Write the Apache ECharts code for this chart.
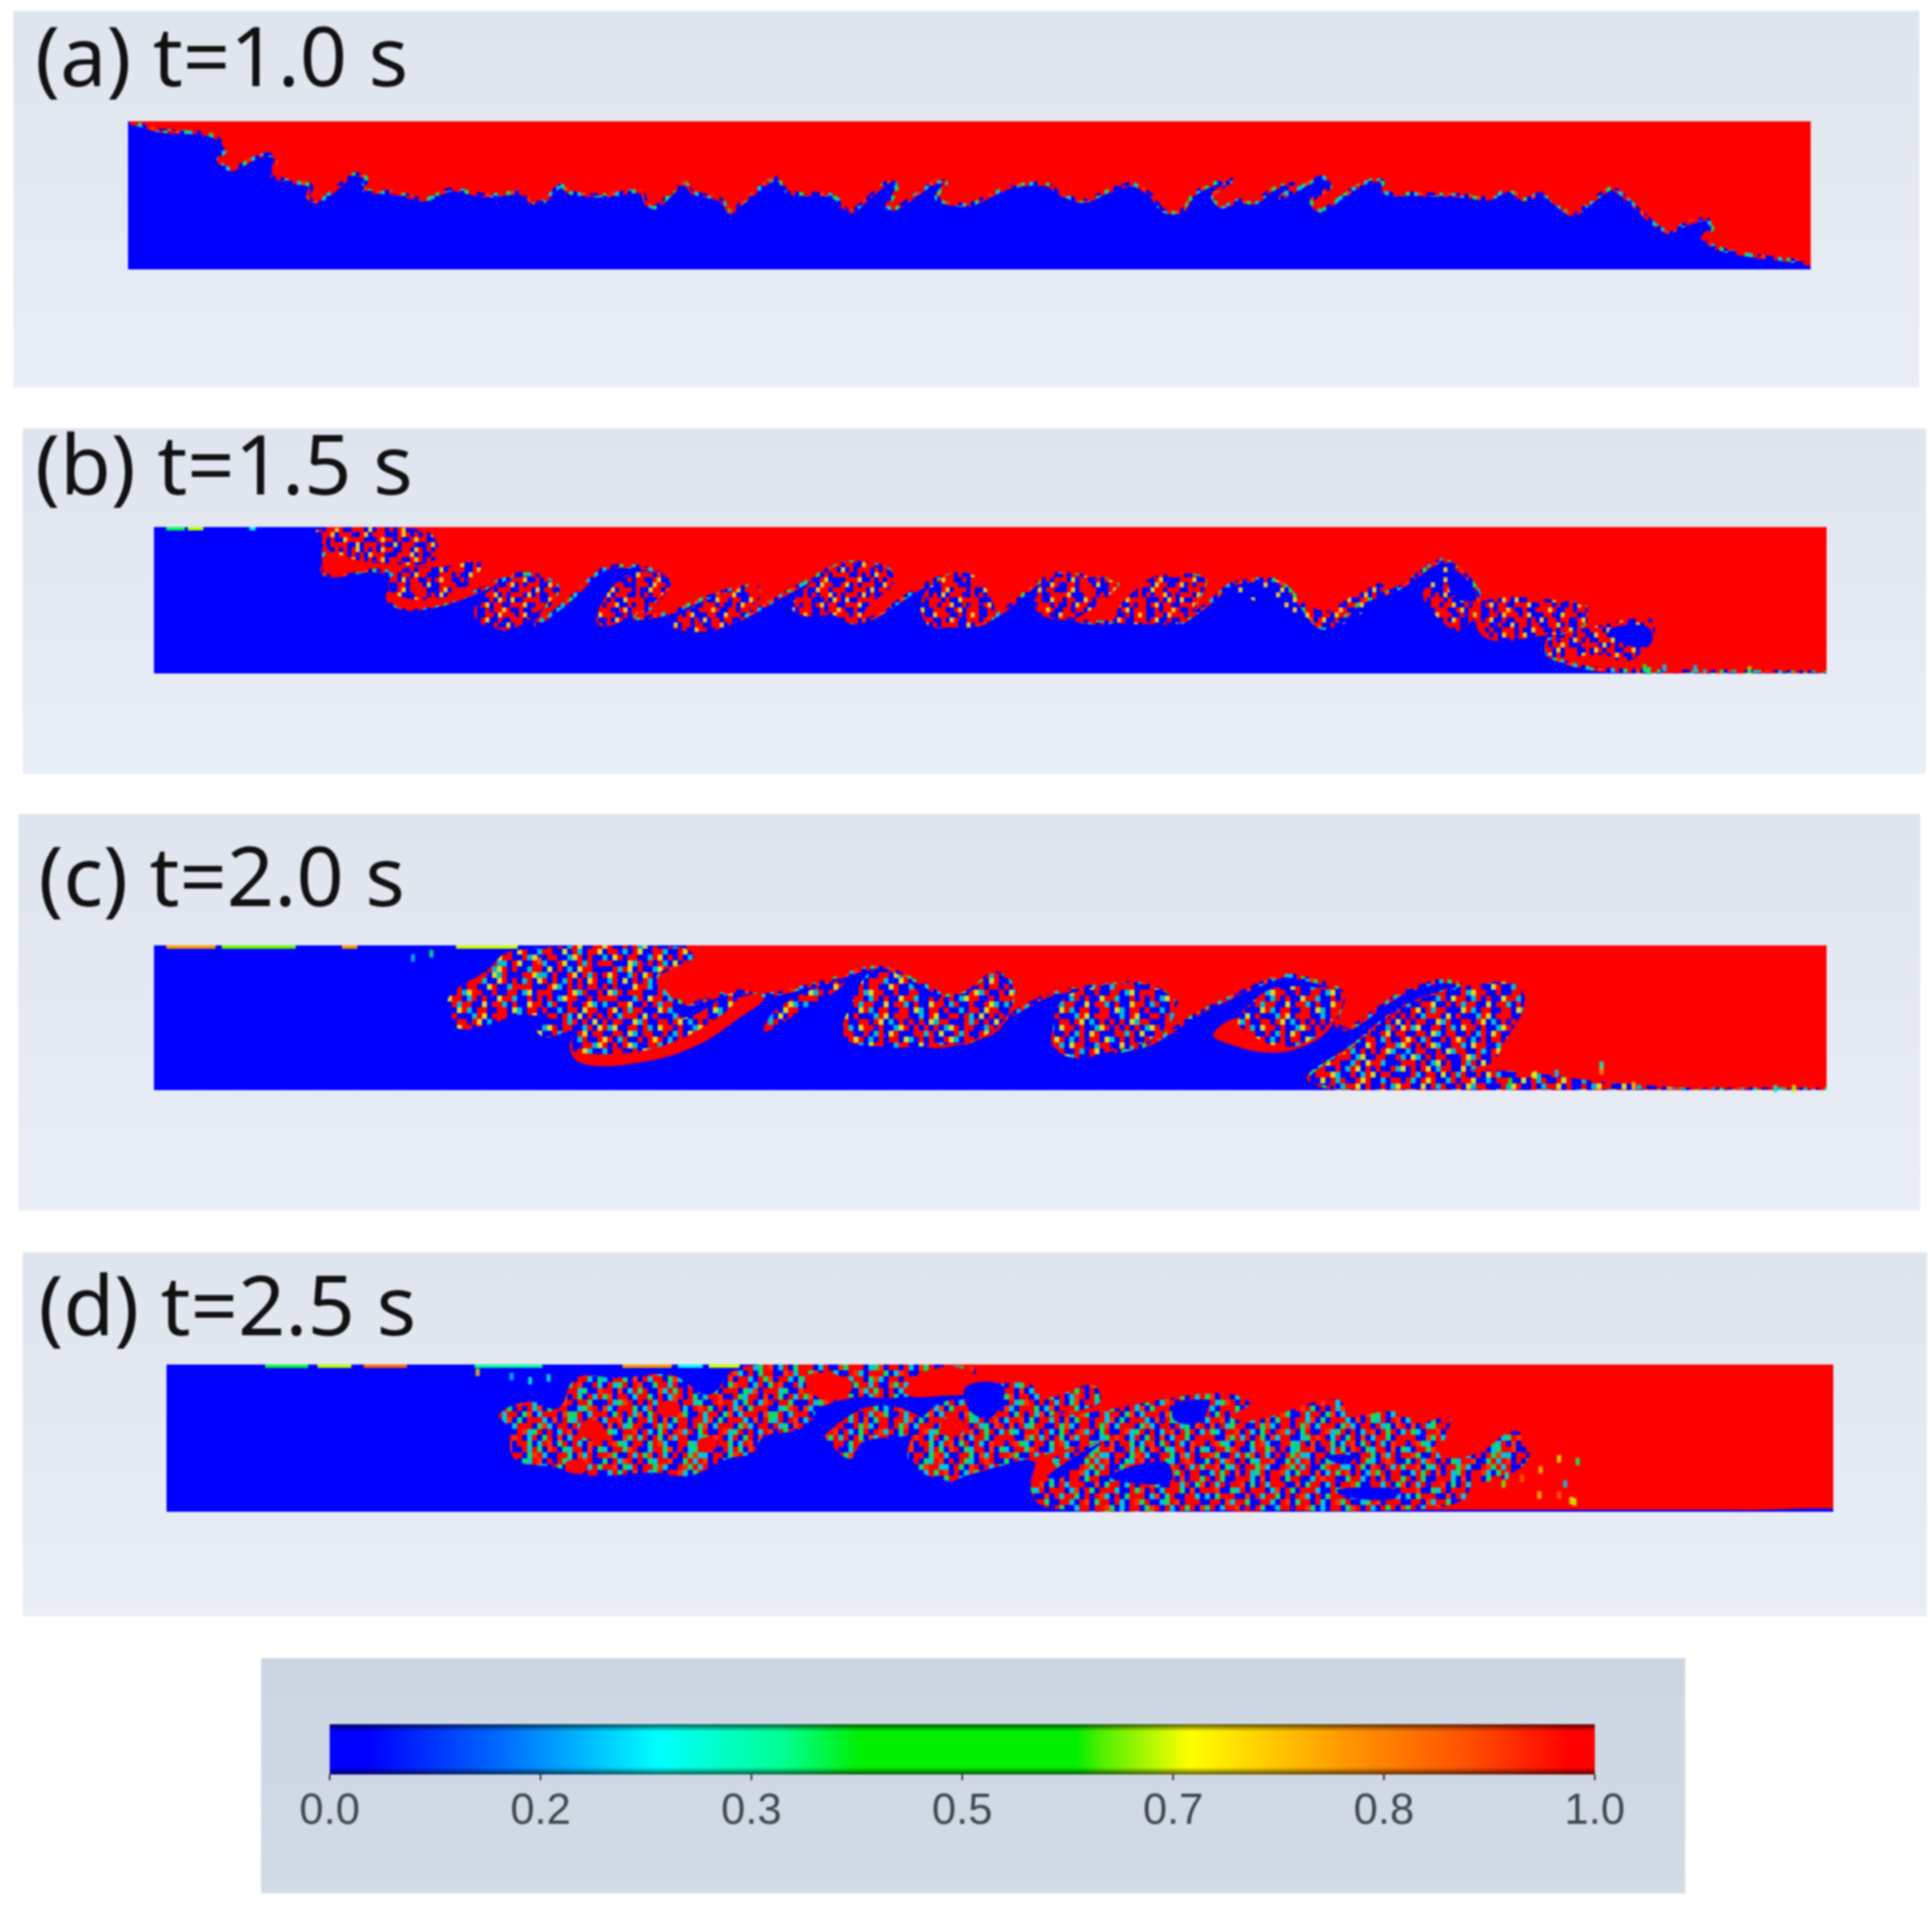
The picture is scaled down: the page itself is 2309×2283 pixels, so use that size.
<!DOCTYPE html>
<html>
<head>
<meta charset="utf-8">
<title>VOF snapshots</title>
<style>
  html, body { margin: 0; background: #fff; }
  #chart { width: 2309px; height: 2283px; filter: blur(0.9px); }
</style>
<script src="https://cdn.jsdelivr.net/npm/echarts@6/dist/echarts.min.js"></script>
</head>
<body>
<div id="chart"></div>
<script>
const panelLabels = ['(a) t=1.0 s', '(b) t=1.5 s', '(c) t=2.0 s', '(d) t=2.5 s'];
const barTicks = [0, 0.1667, 0.3333, 0.5, 0.6667, 0.8333, 1];
const barValue = [1];

// tank extents [xMin, xMax, yTop, yBottom]
const extentA = [208, 2938, 435, 965];
const extentB = [250, 2963, 420, 945];
const extentC = [250, 2963, 510, 1030];
const extentD = [270, 2975, 452, 980];

// lower fluid (VOF = 0), closing points sit outside the tank so only the interface shows
const blueA = [[
  [150,438],[208,438],[260,468],[340,482],[368,530],[355,570],[365,600],[380,605],[410,570],[435,553],[450,570],[440,625],
  [470,650],[505,665],[500,705],[515,722],[535,695],[575,625],[595,640],[590,680],[640,690],[690,715],[730,680],
  [790,700],[845,690],[860,720],[880,725],[910,665],[925,690],[985,700],[1040,685],[1050,730],[1065,742],[1110,655],
  [1125,690],[1170,715],[1185,760],[1205,725],[1260,638],[1280,690],[1350,700],[1375,755],[1385,755],[1445,645],
  [1455,680],[1440,740],[1455,745],[1515,655],[1535,655],[1520,710],[1568,735],[1598,710],[1638,670],[1698,660],
  [1718,690],[1758,720],[1798,685],[1838,660],[1868,700],[1888,755],[1918,755],[1938,695],[1978,650],[1998,645],
  [1968,700],[1983,740],[2008,720],[2038,725],[2063,680],[2098,660],[2078,710],[2128,650],[2148,635],[2158,670],
  [2128,720],[2143,755],[2178,705],[2218,650],[2243,650],[2248,690],[2288,695],[2368,700],[2418,710],[2448,680],
  [2473,715],[2503,695],[2533,745],[2553,770],[2578,730],[2613,675],[2628,690],[2658,750],[2688,810],[2708,830],
  [2738,800],[2768,785],[2778,820],[2763,850],[2783,885],[2828,910],[2898,930],[2938,945],[3000,965],[3000,1040],[150,1040]
]];
const blueB = [[
  [150,395],[525,395],[525,585],[600,575],[635,590],[630,680],[660,712],[720,695],[775,650],[840,590],[880,600],
  [905,640],[880,730],[870,770],[930,670],[980,570],[1050,568],[1085,620],[1060,700],[1030,745],[1080,730],[1150,670],
  [1225,630],[1230,670],[1190,760],[1290,640],[1370,550],[1440,570],[1445,620],[1400,690],[1380,760],[1420,740],
  [1490,640],[1530,600],[1568,590],[1588,640],[1610,710],[1588,770],[1628,720],[1703,595],[1768,600],[1813,625],
  [1778,690],[1738,745],[1808,755],[1868,610],[1953,605],[1938,700],[1918,760],[1968,680],[1998,625],[2068,610],
  [2098,660],[2138,775],[2168,770],[2208,690],[2268,640],[2338,540],[2368,575],[2398,650],[2398,690],[2568,700],
  [2568,770],[2513,820],[2513,880],[2593,930],[2838,940],[2963,943],[3020,945],[3020,1020],[150,1020]
]];
const blueC = [[
  [150,485],[1100,485],[1110,560],[1065,620],[1085,690],[1120,720],[1190,675],[1240,690],[1340,640],[1420,590],
  [1490,640],[1530,690],[1568,680],[1613,610],[1643,660],[1628,780],[1568,860],[1688,700],[1738,670],[1850,650],
  [1908,720],[1868,840],[1810,890],[1868,860],[1948,750],[2078,620],[2108,625],[2178,680],[2168,790],[2188,810],
  [2268,690],[2333,640],[2368,650],[2270,740],[2190,880],[2123,985],[2168,1022],[2963,1028],[3020,1030],[3020,1100],[150,1100]
]];
const blueD = [[
  [150,425],[1330,425],[1320,590],[1390,570],[1568,560],[1630,530],[1640,640],[1608,780],[1678,800],[1673,880],
  [1698,965],[1940,972],[2838,974],[3020,978],[3020,1050],[150,1050]
]];

// solid upper fluid pockets (VOF = 1) laid over the lower fluid
const redB = [
  [[530,520],[600,530],[640,545],[600,570],[545,590],[525,575]],
  [[515,430],[685,430],[712,490],[700,545],[620,550],[545,515],[520,470]],
  [[640,590],[665,565],[720,560],[780,545],[775,590],[745,650],[775,655],[720,695],[660,712],[632,680]],
  [[775,690],[800,640],[840,600],[880,605],[905,640],[880,710],[830,785],[790,775],[770,740]],
  [[970,720],[1000,620],[1040,580],[1085,620],[1060,690],[1020,745],[980,778],[968,760]],
  [[1085,765],[1150,680],[1230,630],[1225,690],[1185,770],[1140,795],[1095,785]],
  [[1285,710],[1310,630],[1370,550],[1440,570],[1450,620],[1410,700],[1385,765],[1350,735],[1310,740]],
  [[1495,680],[1530,600],[1568,585],[1588,610],[1612,700],[1590,770],[1540,780],[1505,770]],
  [[1678,700],[1700,600],[1760,595],[1813,625],[1790,680],[1745,745],[1700,745]],
  [[1808,750],[1868,610],[1953,605],[1938,700],[1918,760],[1868,768]],
  [[2308,660],[2338,620],[2398,690],[2370,790],[2340,760]],
  [[2398,690],[2568,700],[2568,770],[2500,810],[2408,815]],
  [[2510,830],[2590,790],[2640,860],[2640,900],[2600,880],[2513,880]]
];
const redC = [
  [[1040,930],[1130,870],[1200,770],[1240,700],[1195,700],[1150,790],[1100,830],[1060,800],[960,800],[925,870],[945,935]],
  [[1500,870],[1578,855],[1628,790],[1600,700],[1520,770]],
  [[1968,830],[2008,770],[2140,770],[2178,700],[2160,800],[2118,870],[2058,895],[1988,860]],
  [[2270,750],[2333,700],[2473,720],[2440,860],[2420,960],[2300,1000],[2200,960]]
];
const redD = [
  [[2068,800],[2128,760],[2120,860],[2070,890]],
  [[1970,910],[2060,900],[2080,960],[1980,970]]
];

// mixed (speckled) zones
const mixB = [
  [[515,430],[685,430],[712,490],[700,545],[620,550],[545,515],[520,470]],
  [[640,590],[665,565],[720,560],[780,545],[775,590],[745,650],[700,680],[650,670],[630,640]],
  [[775,690],[800,640],[840,600],[880,605],[905,640],[880,710],[830,785],[790,775],[770,740]],
  [[970,720],[1000,620],[1040,580],[1085,620],[1060,690],[1020,745],[980,778],[968,760]],
  [[1085,765],[1150,680],[1230,630],[1225,690],[1185,770],[1140,795],[1095,785]],
  [[1285,710],[1310,630],[1370,550],[1440,570],[1450,620],[1410,700],[1385,765],[1350,735],[1310,740]],
  [[1495,680],[1530,600],[1568,585],[1588,610],[1612,700],[1590,770],[1540,780],[1505,770]],
  [[1678,700],[1700,600],[1760,595],[1813,625],[1790,680],[1745,745],[1700,745]],
  [[1808,750],[1868,610],[1953,605],[1938,700],[1918,760],[1868,768]],
  [[1998,630],[2070,610],[2100,660],[2145,720],[2170,700],[2230,620],[2250,650],[2170,778],[2135,775],[2060,700],[2030,680]],
  [[2308,660],[2338,540],[2368,575],[2398,650],[2398,690],[2370,790],[2340,760]],
  [[2398,690],[2568,700],[2568,770],[2500,810],[2408,815]],
  [[2510,830],[2600,770],[2680,750],[2683,810],[2668,860],[2640,900],[2600,880],[2513,880]]
];
const mixC = [
  [[730,690],[790,600],[830,530],[1100,515],[1125,555],[1065,620],[1090,700],[1110,770],[1190,680],[1195,710],[1150,790],[1100,850],[1040,890],[960,900],[925,880],[930,820],[885,840],[870,810],[900,780],[840,760],[800,790],[745,810],[730,760]],
  [[1240,820],[1260,740],[1350,640],[1370,650],[1290,760]],
  [[1370,840],[1385,700],[1420,595],[1470,630],[1500,690],[1568,680],[1613,610],[1643,660],[1628,780],[1578,850],[1510,870],[1440,875]],
  [[1708,810],[1718,720],[1748,675],[1850,650],[1908,720],[1878,830],[1810,885],[1745,915],[1708,870]],
  [[2008,780],[2050,680],[2078,660],[2130,660],[2178,680],[2160,780],[2118,860],[2070,870],[2030,830]],
  [[2123,985],[2190,880],[2270,740],[2333,680],[2400,650],[2458,650],[2473,720],[2440,860],[2420,930],[2380,960],[2240,1020],[2140,1010]],
  [[2170,1000],[2420,960],[2600,1000],[2720,1025],[2170,1030]]
];
const mixD = [
  [[810,630],[860,585],[905,610],[935,500],[1000,500],[1090,490],[1150,560],[1195,470],[1300,470],[1325,600],[1300,680],[1240,710],[1220,770],[1180,790],[1120,850],[1060,840],[960,850],[900,820],[835,790],[825,680]],
  [[1195,460],[1578,460],[1573,520],[1460,570],[1380,570],[1320,600],[1300,520]],
  [[1340,700],[1420,600],[1500,650],[1480,700],[1400,730],[1380,790],[1345,730]],
  [[1478,810],[1478,720],[1518,600],[1568,570],[1608,530],[1668,520],[1698,570],[1773,525],[1783,590],[1698,640],[1808,610],[1908,570],[1988,555],[2028,590],[1998,640],[2038,650],[2168,575],[2193,630],[2268,620],[2303,660],[2353,640],[2348,700],[2338,780],[2398,770],[2458,690],[2483,770],[2448,850],[2388,890],[2378,935],[2308,970],[2008,975],[1698,965],[1673,880],[1718,840],[1708,790],[1788,730],[1668,790],[1568,850],[1538,870]]
];
const blueOverB = [
  [[2610,790],[2670,775],[2680,830],[2650,850]],
  [[2350,630],[2380,640],[2395,680],[2365,680]]
];
const blueOverD = [
  [[1568,530],[1628,530],[1610,640],[1575,620]],
  [[1700,850],[1788,730],[1740,820],[1720,860]],
  [[1800,850],[1890,800],[1900,870],[1830,875]],
  [[1910,590],[1960,590],[1945,660],[1905,650]],
  [[2170,900],[2270,900],[2260,935],[2180,925]],
  [[2150,780],[2200,780],[2180,810]]
];
const redOverD = [
  [[945,660],[975,660],[975,710],[945,710]],
  [[1070,590],[1100,590],[1100,630],[1070,630]],
  [[1135,720],[1160,720],[1160,755],[1135,755]],
  [[920,800],[950,800],[950,835],[920,835]],
  [[1310,490],[1380,510],[1370,570],[1320,560]],
  [[1470,540],[1510,470],[1578,480],[1568,530],[1490,570]],
  [[1530,650],[1560,650],[1560,700],[1530,700]]
];

// isolated droplets [x, y, VOF]
const dropsB = [[2668,925,0.45],[2675,935,0.4],[2700,925,0.2],[2750,928,0.2],[2838,932,0.6]];
const dropsC = [[875,565,0.9],[700,540,0.4],[670,555,0.2],[2598,960,0.85],[2598,940,0.3],[2490,975,0.7],[2525,970,0.2],[2450,1000,0.5],[2650,1015,0.8],[2880,1025,0.3],[2910,1025,0.7]];
const dropsD = [[775,480,0.8],[830,495,0.2],[860,510,0.3],[890,500,0.3],[2498,920,0.8],[2530,920,0.9],[2550,940,0.7],[2540,880,0.2],[2560,800,0.4],[2530,790,0.7],[2500,830,0.8],[2470,860,0.9],[2445,850,0.3],[2440,880,0.6],[2555,945,0.7]];

// coloured streaks on the tank lid [xStart, xEnd, VOF]
const lidB = [[270,300,0.42],[305,330,0.68],[405,415,0.25]];
const lidC = [[270,350,0.85],[360,480,0.6],[555,580,0.85],[740,840,0.7]];
const lidD = [[430,500,0.45],[515,570,0.68],[590,660,0.9],[770,880,0.35],[1010,1090,0.85],[1100,1140,0.25],[1150,1200,0.7]];

const jet = ['#0000ff', '#00ffff', '#00ff00', '#ffff00', '#ff0000'];
function vofColor(v) { return echarts.color.lerp(v, jet); }

// speckle tile, one letter per cell of the mixed region
const speckleTile = [
  'rbrgbbyrrcbobrrbgyrbbcrorrbbgrycbrbobrrg',
  'bycrbrrobgbrcyrrbbobgrrbcybrrogbbrycrbgo',
  'rrobbgcrbyrrbcobrgbyrrcbbrgobrbcyrrgbobr',
  'cbgrrybbobrcrrgbybrocbrbgyrrbcobgrbbrycb',
  'brybocrrgbbyrcbrobgrrbycbrogrbbcgrobyrrb',
  'grbcrrobybrgbbcrybrrogbcbrybgorbrcbygrbo',
  'obrrgbycrbborgrybcbrgrbobycrrgbbocrbrgyb',
  'rcybbrogrcbyrrbogbcyrbrgobrbcyrgrobbcrby',
  'bbrogycbrrgbobcrbyrgbborcrgybbrcogbrybrr',
  'yrbcrbbogryrbcgobrrbycbogrbbrycgrobcrbgr',
  'rgobrycbbrocbyrrgbcorbbygrocbrbgyrbborcy',
  'cbrrgbobycrrbgocbrybrrgcbobyrcbrgobrycbg',
  'bycgrbrobbgrycrbbogrcybrbgorrbcybgrobbrc',
  'rrbobcygrbbocrgybrbcrogbyrrbgcobyrrcgbbo',
  'gobrybcrrgbybcorbrgbcyrobbrgcrybobrgbrcy',
  'brcgorbybrcrbgobyrcgbbrorycbgrbcoybrrgbb',
  'ocbryrgbcobrrygbcbrorgbybrcobgryrbbcgorb',
  'rbgybrcobgrbycrogbbrcyrbgobcrryboggrbcyr',
  'cyrobgbrrcybobgrrbyrcobgbryrcbobrgcybrob',
  'bobrcgrybbrgocbyrbrgobcyrrbgocbyrbrcgbor',
  'rgcbyrobrcbgybrocrbgybbrocgrbybcrobrgybc',
  'yrbbogrcybrgbocrybbcgrorbcybgrbobcrygbrr',
  'brogcbrybgrocbbrygcrbobyrgbcrobgybrcbory',
  'cbyrgorbbcrygobrbcgyrobbrcygborbgcyrbobg',
  'rogbbycrgobrcbybrgoccbrybgorcbbrygbocrbr',
  'gbrcoybrbgcyrobbgrcyobrbgcrobybrgcbyorbb',
  'ryobgcrbyrgocbbrogycrbbgoryccbrgboybrcrg',
  'bcrgybobrcgybrrocbgyrbobcrgyobrbcogrbyrb'
];

// which colour each tile letter takes in each panel look
const looseColors = { b: '#0000ff', c: '#0000ff', y: '#e6c030' };
const cloudColors = { r: '#ff0000', o: '#ff0000', b: '#0000ff', c: '#00b8d8', g: '#0000ff', y: '#d8d828' };
const denseColors = { r: '#ff0000', o: '#ff3000', b: '#0000ff', c: '#00c4dc', g: '#18d860', y: '#ff0000' };

function buildTile(cellW, cellH, colors) {
    const canvas = document.createElement('canvas');
    canvas.width = speckleTile[0].length * cellW;
    canvas.height = speckleTile.length * cellH;
    const ctx = canvas.getContext('2d');
    speckleTile.forEach((row, r) => {
        for (let c = 0; c < row.length; c++) {
            if (colors[row[c]]) {
                ctx.fillStyle = colors[row[c]];
                ctx.fillRect(c * cellW, r * cellH, cellW, cellH);
            }
        }
    });
    return { image: canvas, repeat: 'repeat' };
}

const chart = echarts.init(document.getElementById('chart'), null, { renderer: 'canvas', devicePixelRatio: 1 });
const speckleEdge = buildTile(5, 6, denseColors);
const speckleLoose = buildTile(5, 6, looseColors);
const speckleCloud = buildTile(6, 7, cloudColors);
const speckleDense = buildTile(6, 7, denseColors);

// pixel boxes
const tankBoxes = [
    { left: 153, top: 145, width: 2011, height: 177 },
    { left: 184, top: 630, width: 1999, height: 175 },
    { left: 184, top: 1130, width: 1999, height: 173 },
    { left: 199, top: 1631, width: 1992, height: 176 }
];
const panelBoxes = [
    [16, 13, 2278, 450], [27, 512, 2275, 413], [22, 973, 2273, 474], [27, 1497, 2276, 435]
];
const labelSpots = [[42, 25], [42, 513], [46, 1005], [46, 1518]];
const extents = [extentA, extentB, extentC, extentD];

function polygonLayer(panel, polys, style, smooth) {
    return {
        type: 'custom', xAxisIndex: panel, yAxisIndex: panel, clip: true, silent: true,
        data: polys.map((p, k) => [k]),
        renderItem: (params, api) => ({
            type: 'polygon',
            shape: { points: polys[params.dataIndex].map(pt => api.coord(pt)), smooth: smooth },
            style: style
        })
    };
}
function lidLayer(panel, lid) {
    const top = extents[panel][2];
    return {
        type: 'custom', xAxisIndex: panel, yAxisIndex: panel, clip: true, silent: true,
        data: lid,
        renderItem: (params, api) => {
            const a = api.coord([api.value(0), top]);
            const b = api.coord([api.value(1), top]);
            return { type: 'rect', shape: { x: a[0], y: a[1], width: b[0] - a[0], height: 4 }, style: { fill: vofColor(api.value(2)) } };
        }
    };
}
function dropLayer(panel, drops) {
    return {
        type: 'scatter', xAxisIndex: panel, yAxisIndex: panel, silent: true,
        symbol: 'rect', symbolSize: [5, 9],
        data: drops,
        itemStyle: { color: p => vofColor(p.value[2]) }
    };
}

const blueFill = { fill: '#0000ff' };
const redFill = { fill: '#ff0000' };
const edged = { fill: '#0000ff', stroke: speckleEdge, lineWidth: 5, lineJoin: 'round' };

const series = [
    polygonLayer(0, blueA, edged, 0.3),

    polygonLayer(1, blueB, edged, 0.3),
    polygonLayer(1, redB, redFill, 0.4),
    polygonLayer(1, mixB, { fill: speckleLoose }, 0.4),
    polygonLayer(1, blueOverB, blueFill, 0.4),
    dropLayer(1, dropsB),
    lidLayer(1, lidB),

    polygonLayer(2, blueC, edged, 0.3),
    polygonLayer(2, redC, redFill, 0.4),
    polygonLayer(2, mixC, { fill: speckleCloud }, 0.4),
    dropLayer(2, dropsC),
    lidLayer(2, lidC),

    polygonLayer(3, blueD, blueFill, 0.3),
    polygonLayer(3, redD, redFill, 0.4),
    polygonLayer(3, mixD, { fill: speckleDense }, 0.4),
    polygonLayer(3, blueOverD, blueFill, 0.4),
    polygonLayer(3, redOverD, redFill, 0.5),
    dropLayer(3, dropsD),
    lidLayer(3, lidD),

    // colour bar
    {
        type: 'bar', xAxisIndex: 4, yAxisIndex: 4, silent: true, barWidth: '100%', barGap: '-100%',
        data: barValue,
        itemStyle: {
            color: new echarts.graphic.LinearGradient(0, 0, 1, 0, [
                { offset: 0, color: '#0000ff' },
                { offset: 0.03, color: '#0000ff' },
                { offset: 0.14, color: '#0070ff' },
                { offset: 0.26, color: '#00ffff' },
                { offset: 0.36, color: '#00ff90' },
                { offset: 0.42, color: '#00f000' },
                { offset: 0.59, color: '#00f000' },
                { offset: 0.61, color: '#50f000' },
                { offset: 0.68, color: '#ffff00' },
                { offset: 0.8, color: '#ff9a00' },
                { offset: 0.9, color: '#ff5000' },
                { offset: 0.98, color: '#ff0000' },
                { offset: 1, color: '#ff0000' }
            ])
        }
    },
    {
        type: 'bar', xAxisIndex: 4, yAxisIndex: 4, silent: true, barWidth: '100%', barGap: '-100%',
        data: barValue,
        itemStyle: {
            color: new echarts.graphic.LinearGradient(0, 0, 0, 1, [
                { offset: 0, color: 'rgba(0,0,0,0.65)' },
                { offset: 0.14, color: 'rgba(0,0,0,0)' },
                { offset: 0.86, color: 'rgba(0,0,0,0)' },
                { offset: 1, color: 'rgba(0,0,0,0.65)' }
            ])
        }
    }
];

const grids = tankBoxes.map(b => Object.assign({ show: true, backgroundColor: '#ff0000', borderWidth: 0 }, b));
grids.push({ left: 394, top: 2061, width: 1512, height: 60 });

const xAxes = extents.map((e, i) => ({ type: 'value', gridIndex: i, min: e[0], max: e[1], show: false }));
const yAxes = extents.map((e, i) => ({ type: 'value', gridIndex: i, min: e[2], max: e[3], inverse: true, show: false }));
xAxes.push({
    type: 'value', gridIndex: 4, min: 0, max: 1,
    splitLine: { show: false },
    axisLine: { show: false },
    axisTick: { show: true, customValues: barTicks, length: 7, lineStyle: { color: '#333', width: 2 } },
    axisLabel: {
        show: true, customValues: barTicks, margin: 19,
        formatter: v => v.toFixed(1),
        fontFamily: '"Liberation Sans Narrow", "Liberation Sans"', fontSize: 52, color: '#3f4750'
    }
});
yAxes.push({ type: 'category', gridIndex: 4, data: ['VOF'], show: false });

const panelRects = panelBoxes.map(b => ({
    type: 'rect', silent: true, z: -10,
    shape: { x: b[0], y: b[1], width: b[2], height: b[3] },
    style: {
        fill: new echarts.graphic.LinearGradient(0, 0, 0, 1, [
            { offset: 0, color: '#dfe5ee' },
            { offset: 1, color: '#eaeef6' }
        ])
    }
}));
panelRects.push({
    type: 'rect', silent: true, z: -10,
    shape: { x: 312, y: 1982, width: 1702, height: 281 },
    style: {
        fill: new echarts.graphic.LinearGradient(0, 0, 0, 1, [
            { offset: 0, color: '#cdd6e3' },
            { offset: 1, color: '#d3dbe7' }
        ])
    }
});

const option = {
    backgroundColor: '#ffffff',
    animation: false,
    title: panelLabels.map((text, i) => ({
        text: text,
        left: labelSpots[i][0],
        top: labelSpots[i][1],
        padding: 0,
        textStyle: { fontFamily: '"Noto Sans"', fontWeight: 'normal', fontSize: 99, color: '#111' }
    })),
    graphic: panelRects,
    grid: grids,
    xAxis: xAxes,
    yAxis: yAxes,
    series: series
};

chart.setOption(option);
</script>
</body>
</html>
